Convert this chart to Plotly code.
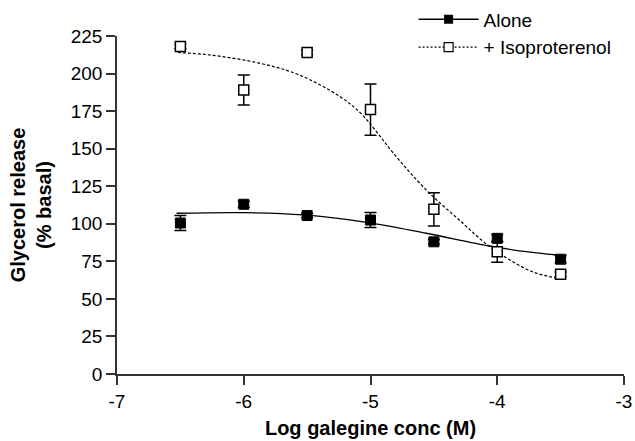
import plotly.graph_objects as go

# Data points
log_conc = [-6.5, -6.0, -5.5, -5.0, -4.5, -4.0, -3.5]
alone_vals = [100.5, 113, 105.5, 102.5, 88, 90.3, 76.4]
alone_err = [5, 2, 1.5, 5, 1.5, 2.5, 2.5]
iso_vals = [218, 189, 214, 176, 109.6, 81.4, 66.4]
iso_err = [1.5, 10, 1.5, 17, 11, 7, 1.5]

# Fitted curves
alone_curve_x = [-6.53, -6.0, -5.53, -5.03, -4.56, -4.06, -3.77, -3.53]
alone_curve_y = [107, 107.4, 105.9, 101, 93.7, 85.2, 81.4, 79.2]
iso_curve_x = [-6.52, -6.27, -5.87, -5.56, -5.24, -5.08, -4.95, -4.82, -4.56, -4.30, -4.06, -3.90, -3.72, -3.53]
iso_curve_y = [214, 212.4, 206.8, 199, 184.6, 173.8, 161, 147, 122.5, 102.5, 84.7, 75.9, 68, 63.7]

x_ticks = [-7, -6, -5, -4, -3]
y_ticks = [0, 25, 50, 75, 100, 125, 150, 175, 200, 225]

FONT = "Liberation Sans, Arial, sans-serif"
fig = go.Figure()

fig.add_trace(go.Scatter(x=alone_curve_x, y=alone_curve_y, mode="lines", line=dict(color="black", width=1.3, shape="spline"),
                         showlegend=False, hoverinfo="skip"))
fig.add_trace(go.Scatter(x=iso_curve_x, y=iso_curve_y, mode="lines", line=dict(color="black", width=1.2, dash="3px,2px", shape="spline"),
                         showlegend=False, hoverinfo="skip"))

fig.add_trace(go.Scatter(x=log_conc, y=alone_vals, mode="markers",
                         marker=dict(symbol="square", size=10, color="black", line=dict(color="black", width=1)),
                         error_y=dict(type="data", array=alone_err, color="black", thickness=1.5, width=6),
                         showlegend=False))
fig.add_trace(go.Scatter(x=log_conc, y=iso_vals, mode="markers",
                         marker=dict(symbol="square", size=10, color="white", line=dict(color="black", width=1.5)),
                         error_y=dict(type="data", array=iso_err, color="black", thickness=1.5, width=6),
                         showlegend=False))

# legend entries
fig.add_trace(go.Scatter(x=[None], y=[None], mode="lines+markers", name="Alone",
                         line=dict(color="black", width=1.5),
                         marker=dict(symbol="square", size=9, color="black")))
fig.add_trace(go.Scatter(x=[None], y=[None], mode="lines+markers", name="+ Isoproterenol",
                         line=dict(color="black", width=1.2, dash="2px,2px"),
                         marker=dict(symbol="square", size=9, color="white", line=dict(color="black", width=1.2))))

fig.update_layout(
    width=635, height=441,
    margin=dict(l=117, r=11, t=36, b=67, autoexpand=False),
    plot_bgcolor="white", paper_bgcolor="white",
    font=dict(family=FONT, size=19, color="black"),
    legend=dict(x=0.585, y=1.105, xanchor="left", yanchor="top", bgcolor="rgba(0,0,0,0)",
                font=dict(size=19), tracegroupgap=0, itemwidth=60),
    xaxis=dict(range=[-7, -3], tickvals=x_ticks, ticktext=[str(v) for v in x_ticks],
               showgrid=False, zeroline=False, showline=True, linecolor="#333", linewidth=1.5,
               ticks="outside", ticklen=9, tickwidth=1.5, tickcolor="#333",
               title=dict(text="<b>Log galegine conc (M)</b>", font=dict(size=20), standoff=10)),
    yaxis=dict(range=[0, 225], tickvals=y_ticks, showgrid=False, zeroline=False,
               showline=True, linecolor="#333", linewidth=1.5,
               ticks="outside", ticklen=9, tickwidth=1.5, tickcolor="#333",
               title=dict(text="<b>Glycerol release<br>(% basal)</b>", font=dict(size=20), standoff=14)),
)

fig.write_html("out.html")
